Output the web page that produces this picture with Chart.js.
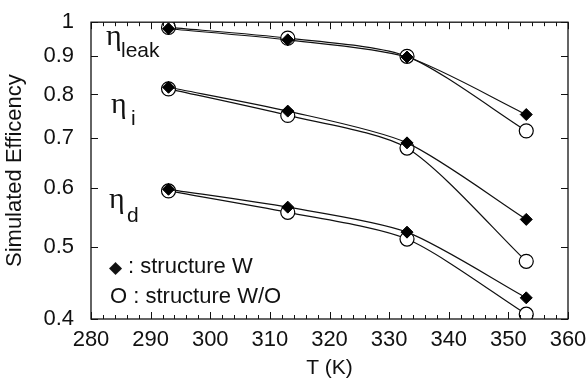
<!DOCTYPE html>
<html>
<head>
    <title>Simulated Efficiency vs Temperature</title>
    <script src="https://cdn.jsdelivr.net/npm/chart.js"></script>
    <style>
        body { margin: 0; background: #fff; }
        .chart-box { width: 587px; height: 383px; }
    </style>
</head>
<body>
    <div class="chart-box"><canvas id="effChart"></canvas></div>

    <script>
    // temperatures (K) and efficiencies, with (W) and without (W/O) the structure
    const temps = [293, 313, 333, 353];
    const leakW  = [0.980, 0.947, 0.898, 0.752];
    const leakWO = [0.984, 0.952, 0.900, 0.715];
    const intW   = [0.818, 0.760, 0.689, 0.544];
    const intWO  = [0.814, 0.750, 0.678, 0.478];
    const detW   = [0.597, 0.565, 0.523, 0.427];
    const detWO  = [0.594, 0.556, 0.512, 0.406];
    const yTicks = [0.4, 0.5, 0.6, 0.7, 0.8, 0.9, 1];
    const xTicks = [280, 290, 300, 310, 320, 330, 340, 350, 360];

    function pts(vals) {
        return temps.map((t, i) => ({ x: t, y: vals[i] }));
    }

    function withStructure(vals) {
        return {
            data: pts(vals), order: 0,
            borderColor: '#111', borderWidth: 1.2, tension: 0.25,
            pointStyle: 'rectRot', pointRadius: 6,
            pointBackgroundColor: '#000', pointBorderColor: '#000', pointBorderWidth: 1
        };
    }

    function withoutStructure(vals) {
        return {
            data: pts(vals), order: 1,
            borderColor: '#111', borderWidth: 1.2, tension: 0.25,
            pointStyle: 'circle', pointRadius: 7,
            pointBackgroundColor: '#fff', pointBorderColor: '#000', pointBorderWidth: 1.2
        };
    }

    // box, inward ticks and the text labels inside the plot
    const framePlugin = {
        id: 'frame',
        afterDatasetsDraw(chart) {
            const ctx = chart.ctx;
            const a = chart.chartArea;
            const xs = chart.scales.x, ys = chart.scales.y;
            ctx.save();
            ctx.strokeStyle = '#111';
            ctx.lineWidth = 1.3;
            ctx.strokeRect(a.left, a.top, a.right - a.left, a.bottom - a.top);
            ctx.lineWidth = 1;
            ctx.beginPath();
            for (let v = 280; v <= 360; v += 2) {
                const px = Math.round(xs.getPixelForValue(v)) + 0.5;
                const len = v % 10 === 0 ? 7 : 4;
                ctx.moveTo(px, a.bottom); ctx.lineTo(px, a.bottom - len);
                ctx.moveTo(px, a.top); ctx.lineTo(px, a.top + len);
            }
            yTicks.forEach(v => {
                const py = Math.round(ys.getPixelForValue(v)) + 0.5;
                ctx.moveTo(a.left, py); ctx.lineTo(a.left + 7, py);
                ctx.moveTo(a.right, py); ctx.lineTo(a.right - 7, py);
            });
            ctx.stroke();

            ctx.fillStyle = '#111';
            ctx.textBaseline = 'alphabetic';
            ctx.textAlign = 'left';
            const eta = (x, y, sub, dx, dy) => {
                ctx.font = '30px "Liberation Serif"';
                ctx.fillText('\u03b7', x, y);
                ctx.font = '21px "Liberation Sans"';
                ctx.fillText(sub, x + dx, y + dy);
            };
            eta(106, 45, 'leak', 15, 12);
            eta(111, 113, 'i', 20, 12);
            eta(109, 208, 'd', 18, 14);

            ctx.font = '17px "DejaVu Sans"';
            ctx.fillText('\u25c6', 109, 273);
            ctx.font = '22px "Liberation Sans"';
            ctx.fillText(': structure W', 128, 273);
            ctx.fillText('O : structure W/O', 110, 303);
            ctx.restore();
        }
    };

    new Chart(document.getElementById('effChart'), {
        type: 'line',
        data: {
            datasets: [
                withStructure(leakW), withoutStructure(leakWO),
                withStructure(intW), withoutStructure(intWO),
                withStructure(detW), withoutStructure(detWO)
            ]
        },
        options: {
            responsive: true,
            maintainAspectRatio: false,
            animation: false,
            layout: { padding: { left: 2, right: 19, top: 17, bottom: 2 } },
            plugins: { legend: { display: false }, tooltip: { enabled: false } },
            scales: {
                x: {
                    type: 'linear', min: 280, max: 360,
                    afterBuildTicks: s => { s.ticks = xTicks.map(v => ({ value: v })); },
                    afterFit: s => { s.height = 62; },
                    grid: { display: false }, border: { display: false },
                    ticks: { color: '#111', font: { family: 'Liberation Sans', size: 22 }, padding: 0 },
                    title: { display: true, text: 'T (K)', color: '#111', padding: { top: 0, bottom: 0 },
                             font: { family: 'Liberation Sans', size: 21 } }
                },
                y: {
                    type: 'logarithmic', min: 0.4, max: 1,
                    afterBuildTicks: s => { s.ticks = yTicks.map(v => ({ value: v })); },
                    afterFit: s => { s.width = 89; },
                    grid: { display: false }, border: { display: false },
                    ticks: { color: '#111', font: { family: 'Liberation Sans', size: 22 }, padding: 9,
                             callback: v => String(v) },
                    title: { display: true, text: 'Simulated Efficency', color: '#111', padding: { top: 0, bottom: 2 },
                             font: { family: 'Liberation Sans', size: 22 } }
                }
            }
        },
        plugins: [framePlugin]
    });
    </script>
</body>
</html>
